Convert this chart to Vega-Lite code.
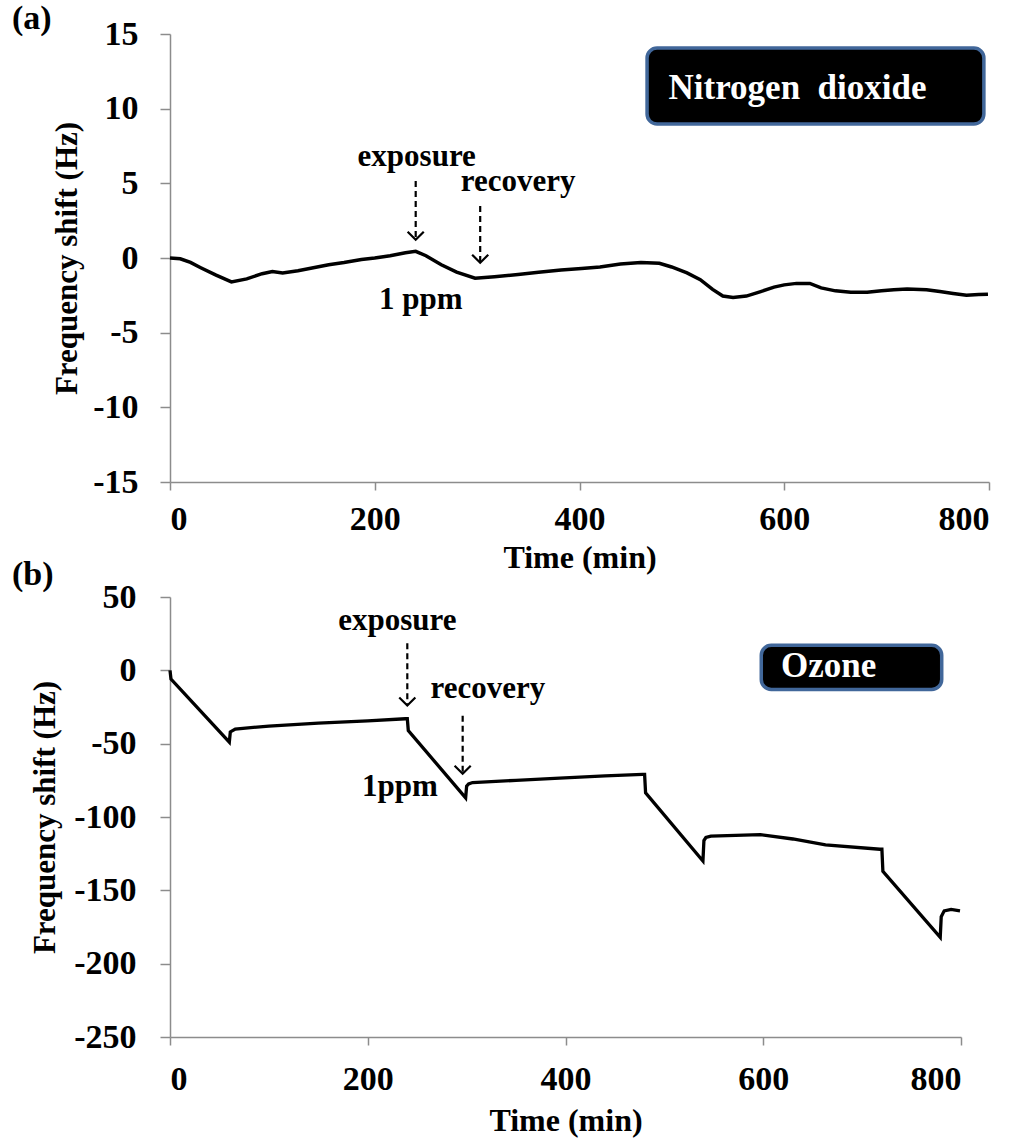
{
  "$schema": "https://vega.github.io/schema/vega-lite/v6.json",
  "background": "white",
  "padding": {"left": 12, "top": 2, "right": 5, "bottom": 5},
  "spacing": -15,
  "config": {
    "view": {"stroke": null},
    "axis": {
      "grid": false,
      "domainColor": "#8c8c8c",
      "domainWidth": 1.5,
      "tickColor": "#8c8c8c",
      "tickWidth": 1.5,
      "labelFont": "Liberation Serif",
      "labelFontWeight": "bold",
      "labelFontSize": 34,
      "labelColor": "black",
      "labelExpr": "'' + datum.value",
      "titleFont": "Liberation Serif",
      "titleFontWeight": "bold",
      "titleColor": "black"
    }
  },
  "datasets": {
    "a_line": [
      {"x": 0, "y": 0}, {"x": 10, "y": -0.05}, {"x": 20, "y": -0.3}, {"x": 30, "y": -0.65},
      {"x": 45, "y": -1.15}, {"x": 60, "y": -1.6}, {"x": 75, "y": -1.4}, {"x": 90, "y": -1.05},
      {"x": 100, "y": -0.9}, {"x": 110, "y": -1.0}, {"x": 125, "y": -0.85}, {"x": 140, "y": -0.65},
      {"x": 155, "y": -0.45}, {"x": 170, "y": -0.3}, {"x": 187, "y": -0.1}, {"x": 200, "y": 0.0},
      {"x": 215, "y": 0.15}, {"x": 230, "y": 0.35}, {"x": 240, "y": 0.45}, {"x": 250, "y": 0.15},
      {"x": 265, "y": -0.45}, {"x": 280, "y": -0.95}, {"x": 298, "y": -1.35}, {"x": 317, "y": -1.25},
      {"x": 340, "y": -1.1}, {"x": 360, "y": -0.95}, {"x": 382, "y": -0.8}, {"x": 402, "y": -0.7},
      {"x": 420, "y": -0.6}, {"x": 440, "y": -0.4}, {"x": 460, "y": -0.3}, {"x": 478, "y": -0.35},
      {"x": 490, "y": -0.6}, {"x": 505, "y": -1.0}, {"x": 518, "y": -1.45}, {"x": 530, "y": -2.1},
      {"x": 540, "y": -2.55}, {"x": 550, "y": -2.65}, {"x": 563, "y": -2.55}, {"x": 577, "y": -2.25},
      {"x": 590, "y": -1.95}, {"x": 600, "y": -1.8}, {"x": 612, "y": -1.7}, {"x": 625, "y": -1.7},
      {"x": 636, "y": -2.0}, {"x": 650, "y": -2.2}, {"x": 665, "y": -2.3}, {"x": 681, "y": -2.3},
      {"x": 695, "y": -2.2}, {"x": 707, "y": -2.12}, {"x": 720, "y": -2.08}, {"x": 739, "y": -2.12},
      {"x": 752, "y": -2.25}, {"x": 765, "y": -2.38}, {"x": 778, "y": -2.5}, {"x": 790, "y": -2.45},
      {"x": 799, "y": -2.43}
    ],
    "a_arrows": [
      {"x": 240, "y": 5.15, "y2": 1.22},
      {"x": 303, "y": 3.48, "y2": -0.32}
    ],
    "a_heads": [
      {"x": 240, "y": 1.22},
      {"x": 303, "y": -0.32}
    ],
    "a_text": [
      {"x": 241, "y": 6.16, "label": "exposure"},
      {"x": 340, "y": 4.48, "label": "recovery"},
      {"x": 245, "y": -3.42, "label": "1 ppm"}
    ],
    "a_box": [
      {"x": 466, "x2": 795, "y": 14.06, "y2": 8.97}
    ],
    "a_boxlabel": [
      {"x": 487, "y": 11.4, "label": "Nitrogen\u00a0 dioxide"}
    ],
    "b_line": [
      {"x": 0, "y": 0}, {"x": 1, "y": -6}, {"x": 60, "y": -49}, {"x": 61, "y": -42},
      {"x": 66, "y": -40}, {"x": 100, "y": -38}, {"x": 150, "y": -36}, {"x": 200, "y": -34.5},
      {"x": 238, "y": -33}, {"x": 240, "y": -33}, {"x": 241, "y": -41}, {"x": 299, "y": -87},
      {"x": 300, "y": -79}, {"x": 302, "y": -77.5}, {"x": 306, "y": -76.5}, {"x": 350, "y": -75},
      {"x": 394, "y": -73.5}, {"x": 440, "y": -72}, {"x": 478, "y": -71}, {"x": 480, "y": -71},
      {"x": 481, "y": -83.5}, {"x": 539, "y": -130}, {"x": 540, "y": -116}, {"x": 542, "y": -114},
      {"x": 547, "y": -113}, {"x": 597, "y": -112}, {"x": 630, "y": -115}, {"x": 663, "y": -119},
      {"x": 718, "y": -122}, {"x": 720, "y": -122}, {"x": 721, "y": -137}, {"x": 779, "y": -182},
      {"x": 780, "y": -168}, {"x": 783, "y": -164}, {"x": 790, "y": -163}, {"x": 799, "y": -164}
    ],
    "b_arrows": [
      {"x": 240, "y": 18.5, "y2": -24},
      {"x": 296, "y": -31, "y2": -70.5}
    ],
    "b_heads": [
      {"x": 240, "y": -24},
      {"x": 296, "y": -70.5}
    ],
    "b_text": [
      {"x": 230, "y": 27.4, "label": "exposure"},
      {"x": 321.5, "y": -19, "label": "recovery"},
      {"x": 232.5, "y": -86, "label": "1ppm"}
    ],
    "b_box": [
      {"x": 598, "x2": 780.5, "y": 17.1, "y2": -13}
    ],
    "b_boxlabel": [
      {"x": 618, "y": 2.7, "label": "Ozone"}
    ]
  },
  "vconcat": [
    {
      "width": 819,
      "height": 448,
      "title": {"text": "(a)", "anchor": "start", "frame": "group", "dx": -158, "offset": -19, "font": "Liberation Serif", "fontWeight": "bold", "fontSize": 34, "color": "black"},
      "encoding": {
        "x": {"field": "x", "type": "quantitative", "scale": {"domain": [0, 800], "nice": false},
              "axis": {"values": [0, 200, 400, 600, 800], "title": "Time (min)", "titleFontSize": 32, "tickSize": 8, "labelPadding": 12, "titlePadding": 6}},
        "y": {"field": "y", "type": "quantitative", "scale": {"domain": [-15, 15], "nice": false},
              "axis": {"values": [-15, -10, -5, 0, 5, 10, 15], "title": "Frequency shift (Hz)", "titleFontSize": 31, "tickSize": 10, "labelPadding": 22, "titlePadding": 9}}
      },
      "layer": [
        {"data": {"name": "a_line"}, "mark": {"type": "line", "color": "black", "strokeWidth": 3.5}},
        {"data": {"name": "a_arrows"}, "mark": {"type": "rule", "color": "black", "strokeWidth": 2.2, "strokeDash": [6, 4]},
         "encoding": {"y2": {"field": "y2"}}},
        {"data": {"name": "a_heads"}, "mark": {"type": "point", "shape": "M-1,-1L0,0L1,-1", "filled": false, "size": 260, "strokeWidth": 2.2, "color": "black", "opacity": 1}},
        {"data": {"name": "a_text"}, "mark": {"type": "text", "font": "Liberation Serif", "fontWeight": "bold", "fontSize": 31, "baseline": "alphabetic", "align": "center", "color": "black"},
         "encoding": {"text": {"field": "label"}}},
        {"data": {"name": "a_box"}, "mark": {"type": "rect", "fill": "black", "stroke": "#41679a", "strokeWidth": 3.5, "cornerRadius": 10},
         "encoding": {"x2": {"field": "x2"}, "y2": {"field": "y2"}}},
        {"data": {"name": "a_boxlabel"}, "mark": {"type": "text", "font": "Liberation Serif", "fontWeight": "bold", "fontSize": 35, "baseline": "middle", "align": "left", "color": "white"},
         "encoding": {"text": {"field": "label"}}}
      ]
    },
    {
      "width": 791,
      "height": 440,
      "title": {"text": "(b)", "anchor": "start", "frame": "group", "dx": -158, "offset": -12, "font": "Liberation Serif", "fontWeight": "bold", "fontSize": 34, "color": "black"},
      "encoding": {
        "x": {"field": "x", "type": "quantitative", "scale": {"domain": [0, 800], "nice": false},
              "axis": {"values": [0, 200, 400, 600, 800], "title": "Time (min)", "titleFontSize": 32, "tickSize": 8, "labelPadding": 17, "titlePadding": 9}},
        "y": {"field": "y", "type": "quantitative", "scale": {"domain": [-250, 50], "nice": false},
              "axis": {"values": [-250, -200, -150, -100, -50, 0, 50], "title": "Frequency shift (Hz)", "titleFontSize": 31, "tickSize": 10, "labelPadding": 24, "titlePadding": 12}}
      },
      "layer": [
        {"data": {"name": "b_line"}, "mark": {"type": "line", "color": "black", "strokeWidth": 3.3}},
        {"data": {"name": "b_arrows"}, "mark": {"type": "rule", "color": "black", "strokeWidth": 2.2, "strokeDash": [6, 4]},
         "encoding": {"y2": {"field": "y2"}}},
        {"data": {"name": "b_heads"}, "mark": {"type": "point", "shape": "M-1,-1L0,0L1,-1", "filled": false, "size": 260, "strokeWidth": 2.2, "color": "black", "opacity": 1}},
        {"data": {"name": "b_text"}, "mark": {"type": "text", "font": "Liberation Serif", "fontWeight": "bold", "fontSize": 31, "baseline": "alphabetic", "align": "center", "color": "black"},
         "encoding": {"text": {"field": "label"}}},
        {"data": {"name": "b_box"}, "mark": {"type": "rect", "fill": "black", "stroke": "#41679a", "strokeWidth": 3.5, "cornerRadius": 10},
         "encoding": {"x2": {"field": "x2"}, "y2": {"field": "y2"}}},
        {"data": {"name": "b_boxlabel"}, "mark": {"type": "text", "font": "Liberation Serif", "fontWeight": "bold", "fontSize": 35, "baseline": "middle", "align": "left", "color": "white"},
         "encoding": {"text": {"field": "label"}}}
      ]
    }
  ]
}
